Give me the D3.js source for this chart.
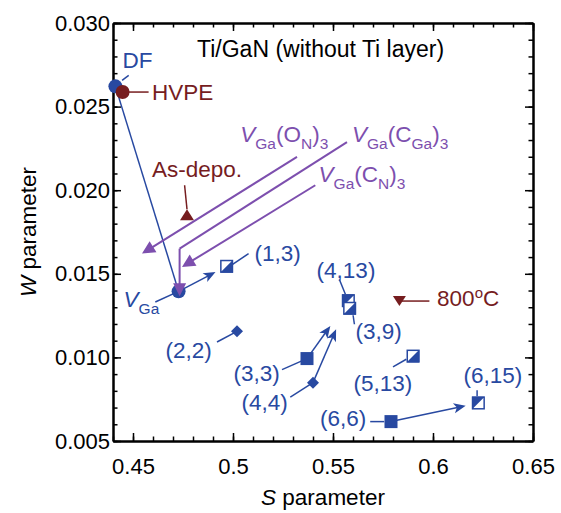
<!DOCTYPE html>
<html>
<head>
<meta charset="utf-8">
<script src="https://cdn.jsdelivr.net/npm/d3@7"></script>
<style>
body { margin: 0; background: #fff; }
text { font-family: "Liberation Sans", Arial, Helvetica, sans-serif; }
</style>
</head>
<body>
<svg id="chart" width="561" height="513"></svg>
<script>
// data
var labels = ["DF", "HVPE", "V_Ga", "As-depo.", "800C", "(1,3)", "(2,2)", "(3,3)", "(4,4)", "(4,13)", "(3,9)", "(5,13)", "(6,15)", "(6,6)"];
var sParam = [0.4412, 0.4448, 0.4728, 0.4770, 0.5832, 0.4968, 0.5020, 0.5370, 0.5400, 0.5577, 0.5583, 0.5900, 0.6227, 0.5790];
var wParam = [0.02621, 0.02587, 0.01395, 0.01850, 0.01337, 0.01545, 0.01156, 0.00993, 0.00849, 0.01339, 0.01294, 0.01008, 0.00727, 0.00616];
var shapes = ["circle", "circle", "circle", "triUp", "triDown", "halfLR", "diamond", "square", "diamond", "halfUL", "halfLR", "halfLR", "halfUL", "square"];
var groups = ["vac", "sample", "vac", "sample", "sample", "vac", "vac", "vac", "vac", "vac", "vac", "vac", "vac", "vac"];

// arrows between measured points: from, to
var arrowFrom = ["V_Ga", "(3,3)", "(4,4)", "(6,6)"];
var arrowTo   = ["(1,3)", "(4,13)", "(4,13)", "(6,15)"];

// calculated defect positions (arrow tips)
var defectNames = ["O_N", "C_Ga", "C_N"];
var defectS = [0.4545, 0.4733, 0.4745];
var defectW = [0.01621, 0.01365, 0.01541];

var xMajor = [0.45, 0.5, 0.55, 0.6, 0.65];
var xTickLabels = ["0.45", "0.5", "0.55", "0.6", "0.65"];
var yMajor = [0.005, 0.010, 0.015, 0.020, 0.025, 0.030];
var yTickLabels = ["0.005", "0.010", "0.015", "0.020", "0.025", "0.030"];

var colour = {vac: "#2849a1", sample: "#761d1f", defect: "#7d4fae"};

var svg = d3.select("#chart");
var x = d3.scaleLinear().domain([0.44, 0.65]).range([113, 533]);
var y = d3.scaleLinear().domain([0.005, 0.030]).range([441, 23]);

var xMinor = d3.range(44, 66).map(function (d) { return d / 100; });
var yMinor = d3.range(5, 31).map(function (d) { return d / 1000; });

// ---- axes, ticks inward on all four sides
function styleAxis(g) {
  g.attr("font-family", null).attr("font-size", null);
  g.select(".domain").attr("stroke", "#000").attr("stroke-width", 2);
  g.selectAll(".tick line").attr("stroke", "#000").attr("stroke-width", 1.5);
  g.selectAll(".tick text").attr("fill", "#000").style("font-size", "22px");
}
function addAxis(axisFn, scale, tr, minor, major, fmt, pad) {
  svg.append("g").attr("transform", tr)
    .call(axisFn(scale).tickValues(minor).tickSize(-4.5).tickSizeOuter(0).tickFormat(""))
    .call(styleAxis);
  svg.append("g").attr("transform", tr)
    .call(axisFn(scale).tickValues(major).tickSize(-8).tickSizeOuter(0).tickPadding(pad)
      .tickFormat(fmt ? function (d, i) { return fmt[i]; } : ""))
    .call(styleAxis);
}
addAxis(d3.axisBottom, x, "translate(0,441)", xMinor, xMajor, xTickLabels, 17);
addAxis(d3.axisTop, x, "translate(0,23)", xMinor, xMajor, null, 3);
addAxis(d3.axisLeft, y, "translate(113,0)", yMinor, yMajor, yTickLabels, 3);
addAxis(d3.axisRight, y, "translate(533,0)", yMinor, yMajor, null, 3);

// axis titles
var xt = svg.append("text").attr("x", 323).attr("y", 505).attr("text-anchor", "middle").style("font-size", "22.5px");
xt.append("tspan").style("font-style", "italic").text("S");
xt.append("tspan").text(" parameter");
var yt = svg.append("text").attr("transform", "translate(36,232) rotate(-90)").attr("text-anchor", "middle").style("font-size", "22.5px");
yt.append("tspan").style("font-style", "italic").text("W");
yt.append("tspan").text(" parameter");

svg.append("text").attr("x", 197).attr("y", 57).style("font-size", "23px").text("Ti/GaN (without Ti layer)");

// ---- helpers
function px(name) { var i = labels.indexOf(name); return [x(sParam[i]), y(wParam[i])]; }

function richText(parts, tx, ty, fill, anchor) {
  var t = svg.append("text").attr("x", tx).attr("y", ty).attr("fill", fill).style("font-size", "22.5px");
  if (anchor) t.attr("text-anchor", anchor);
  var cur = 0;
  parts.forEach(function (p) {
    var ts = t.append("tspan").text(p[0]);
    var shift = 0;
    if (p[1] === "i") ts.style("font-style", "italic");
    if (p[1] === "sub") { shift = 7; ts.style("font-size", "15.5px"); }
    if (p[1] === "sup") { shift = -8; ts.style("font-size", "15px"); }
    if (shift !== cur) ts.attr("dy", shift - cur);
    cur = shift;
  });
  return t;
}

function line(x1, y1, x2, y2, stroke, w) {
  svg.append("line").attr("x1", x1).attr("y1", y1).attr("x2", x2).attr("y2", y2)
    .attr("stroke", stroke).attr("stroke-width", w || 1.5);
}

// stealth arrowhead pointing along angle a, tip at (tx,ty)
function head(tx, ty, a, fill, len, hw, notch) {
  var p = [[0, 0], [-len, -hw], [-len + notch, 0], [-len, hw]];
  var c = Math.cos(a), s = Math.sin(a);
  var pts = p.map(function (q) { return [tx + q[0] * c - q[1] * s, ty + q[0] * s + q[1] * c]; });
  svg.append("path").attr("d", "M" + pts.join("L") + "Z").attr("fill", fill);
}

// ---- lines and leaders (drawn below markers)
var df = px("DF"), vga = px("V_Ga");
line(df[0], df[1], vga[0], vga[1], colour.vac);

var gaps = [12.5, 31, 31, 13];
arrowFrom.forEach(function (f, i) {
  var a = px(f), b = px(arrowTo[i]);
  var dx = b[0] - a[0], dy = b[1] - a[1], L = Math.hypot(dx, dy);
  var tx = a[0] + dx * (L - gaps[i]) / L, ty = a[1] + dy * (L - gaps[i]) / L;
  var ang = Math.atan2(dy, dx);
  line(a[0], a[1], tx - Math.cos(ang) * 6, ty - Math.sin(ang) * 6, colour.vac);
  head(tx, ty, ang, colour.vac, 12, 5, 3);
});

// label layout: text offset (dx,dy) from point, and leader from l1 to l2 (offsets)
var notes = {
  "DF":       {t: [7, -18],     l: [[6.7, -6], [13.3, -11]]},
  "HVPE":     {t: [29.4, 8.3],  l: [[0, 0], [26, 0]]},
  "V_Ga":     {t: [-55, 16],    l: [[-23.3, 10.7], [0, 0]]},
  "As-depo.": {t: [-35, -38],   l: [[-2.4, -30], [0, -6]]},
  "800C":     {t: [37.7, 5.3],  l: [[0, 0], [30, 0]]},
  "(1,3)":    {t: [28, -5],     l: [[6, -2], [22, -12.7]]},
  "(2,2)":    {t: [-71.5, 26.7], l: [[-20, 10.7], [0, 0]]},
  "(3,3)":    {t: [-73.5, 22.7], l: [[-25, 11], [0, 0]]},
  "(4,4)":    {t: [-71.5, 27.7], l: [[-22.7, 14.4], [0, 0]]},
  "(4,13)":   {t: [-31.8, -22.8], l: [[-9, -21.2], [-3, -6.5]]},
  "(3,9)":    {t: [5.8, 31],    l: [[4.8, 16], [3.5, 7]]},
  "(5,13)":   {t: [-59.5, 35.2], l: [[-20, 10.9], [-6.7, 3.2]]},
  "(6,15)":   {t: [-15, -20],   l: [[-1.3, -12.7], [-1.3, -6.7]]},
  "(6,6)":    {t: [-71, 4.7],   l: [[-20.8, 0], [-6.8, 0]]}
};

labels.forEach(function (name, i) {
  var p = px(name), n = notes[name], c = colour[groups[i]];
  line(p[0] + n.l[0][0], p[1] + n.l[0][1], p[0] + n.l[1][0], p[1] + n.l[1][1], c);
});

// ---- markers
var mk = svg.append("g");
labels.forEach(function (name, i) {
  var p = px(name), c = colour[groups[i]], sh = shapes[i], h = 6.5;
  var g = mk.append("g").attr("transform", "translate(" + p[0] + "," + p[1] + ")");
  if (sh === "circle") g.append("circle").attr("r", 7).attr("fill", c);
  if (sh === "square") g.append("rect").attr("x", -h).attr("y", -h).attr("width", 2 * h).attr("height", 2 * h).attr("fill", c);
  if (sh === "diamond") g.append("path").attr("d", "M0,-6L6,0L0,6L-6,0Z").attr("fill", c);
  if (sh === "triUp") g.append("path").attr("d", "M0,-6L7,5L-7,5Z").attr("fill", c);
  if (sh === "triDown") g.append("path").attr("d", "M0,5L6.5,-5L-6.5,-5Z").attr("fill", c);
  if (sh === "halfLR" || sh === "halfUL") {
    g.append("rect").attr("x", -h + 0.75).attr("y", -h + 0.75).attr("width", 2 * h - 1.5).attr("height", 2 * h - 1.5)
      .attr("fill", "#fff").attr("stroke", c).attr("stroke-width", 1.5);
    var d = sh === "halfLR" ? "M" + (-h) + "," + h + "L" + h + "," + (-h) + "L" + h + "," + h + "Z"
                            : "M" + (-h) + "," + h + "L" + (-h) + "," + (-h) + "L" + h + "," + (-h) + "Z";
    g.append("path").attr("d", d).attr("fill", c);
  }
});

// ---- labels
var display = {
  "V_Ga": [["V", "i"], ["Ga", "sub"]],
  "800C": [["800", ""], ["o", "sup"], ["C", ""]]
};
labels.forEach(function (name, i) {
  var p = px(name), n = notes[name];
  richText(display[name] || [[name, ""]], p[0] + n.t[0], p[1] + n.t[1], colour[groups[i]]);
});

// ---- calculated V_Ga complexes (purple arrows)
var defectNotes = {
  "O_N":  {start: [155, -96.6], corner: null, t: [98.3, -111.6]},
  "C_Ga": {start: [167.4, -154.3], corner: [0, -47.7], t: [172.4, -154.3]},
  "C_N":  {start: [133.3, -81.7], corner: null, t: [136.6, -85]}
};
defectNames.forEach(function (d, i) {
  var tx = x(defectS[i]), ty = y(defectW[i]), n = defectNotes[d];
  var sx = tx + n.start[0], sy = ty + n.start[1];
  var ang;
  if (n.corner) {
    var cx = tx + n.corner[0], cy = ty + n.corner[1];
    line(sx, sy, cx, cy, colour.defect, 2);
    line(cx, cy, tx, ty - 10, colour.defect, 2);
    ang = Math.atan2(ty - cy, tx - cx);
  } else {
    ang = Math.atan2(ty - sy, tx - sx);
    line(sx, sy, tx - Math.cos(ang) * 10, ty - Math.sin(ang) * 10, colour.defect, 2);
  }
  head(tx, ty, ang, colour.defect, 13, 6.5, 0);
  var el = d.split("_");
  richText([["V", "i"], ["Ga", "sub"], ["(" + el[0], ""], [el[1], "sub"], [")", ""], ["3", "sub"]],
    tx + n.t[0], ty + n.t[1], colour.defect);
});
</script>
</body>
</html>
